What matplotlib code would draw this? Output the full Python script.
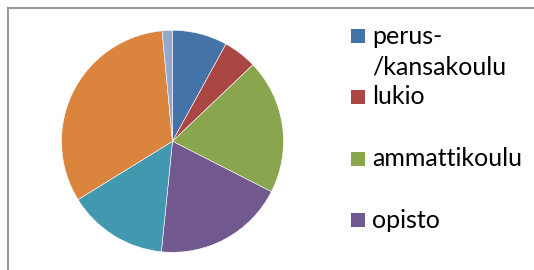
import matplotlib
matplotlib.use("Agg")
import matplotlib.pyplot as plt
from matplotlib.patches import Rectangle
from matplotlib.lines import Line2D

# Data (percent shares)
categories = ["perus-\n/kansakoulu", "lukio", "ammattikoulu", "opisto",
              "ammattikorkeakoulu", "yliopisto", "muu"]
shares = [8.0, 4.9, 19.6, 19.1, 14.6, 32.3, 1.5]
colors = ["#4572A7", "#AA4643", "#89A54E", "#71588F",
          "#4198AF", "#DB843D", "#93A9CF"]
legend_shown = 4  # the rest of the legend is cut off by the picture edge

W, H = 534, 270
fig = plt.figure(figsize=(W / 100, H / 100), dpi=100)
fig.patch.set_facecolor("white")

# outer frame (only top and left edges visible)
fig.add_artist(Line2D([8 / W, 1.0], [1 - 8.3 / H, 1 - 8.3 / H],
                      transform=fig.transFigure, color="#999999", lw=1.5))
fig.add_artist(Line2D([8.3 / W, 8.3 / W], [0.0, 1 - 8 / H],
                      transform=fig.transFigure, color="#999999", lw=1.5))

# pie axes: centre (172.5, 141.3), radius 111 px
cx, cy, r = 172.5, 141.3, 111
ax = fig.add_axes([(cx - r) / W, (H - cy - r) / H, 2 * r / W, 2 * r / H])
wedges, _ = ax.pie(shares, colors=colors, startangle=90, counterclock=False,
                   radius=1.0,
                   wedgeprops=dict(edgecolor="white", linewidth=0.4))
ax.set_xlim(-1, 1)
ax.set_ylim(-1, 1)
ax.set_aspect("equal")
ax.axis("off")

# legend drawn by hand (entries evenly spaced, text top-aligned with key)
key_x0, key_size = 350.5, 14.5
text_x = 372
entry_y = [36, 97, 159, 220]
for i in range(legend_shown):
    y = entry_y[i]
    fig.add_artist(Rectangle((key_x0 / W, 1 - (y + key_size / 2) / H),
                             key_size / W, key_size / H,
                             transform=fig.transFigure,
                             facecolor=colors[i], edgecolor="none"))
    lines = categories[i].split("\n")
    for j, line in enumerate(lines):
        fig.text(text_x / W, 1 - (y + 7.5 + 31 * j) / H, line,
                 family="Lato", fontsize=18, color="black",
                 ha="left", va="baseline")

fig.savefig("out.png", dpi=100)
